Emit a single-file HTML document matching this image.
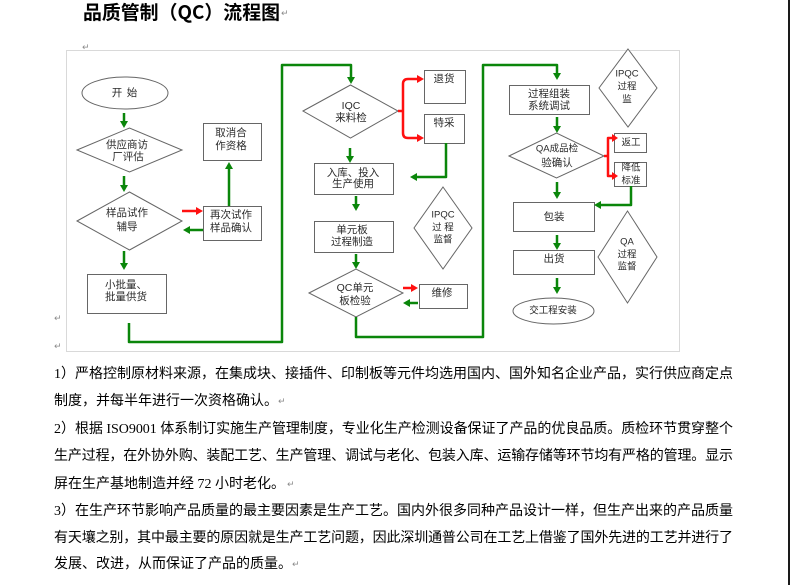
<!DOCTYPE html>
<html><head><meta charset="utf-8">
<style>
html,body{margin:0;padding:0;background:#fff;}
body{width:792px;height:585px;overflow:hidden;position:relative;}
svg{position:absolute;left:0;top:0;}
.t{font-family:"Liberation Sans","Noto Sans CJK SC",sans-serif;font-size:10.5px;fill:#2a2a2a;text-anchor:middle;dominant-baseline:central;}
.s{font-size:9.5px;}
.p{font-family:"Liberation Serif","Noto Sans CJK SC",sans-serif;font-size:14px;fill:#000;}
.m{font-family:"DejaVu Sans",sans-serif;font-size:9px;fill:#8a8a8a;}
</style></head>
<body>
<svg width="792" height="585" viewBox="0 0 792 585" xmlns="http://www.w3.org/2000/svg">
<!-- title -->
<text x="83" y="19" textLength="197" lengthAdjust="spacingAndGlyphs" style="font-family:'Noto Sans CJK SC',sans-serif;font-size:19px;font-weight:bold;fill:#000;">品质管制（QC）流程图</text>
<text class="m" x="281" y="16">↵</text>
<text class="m" x="82" y="50">↵</text>
<text class="m" x="54" y="321">↵</text>
<text class="m" x="54" y="349">↵</text>

<!-- right page edge -->
<rect x="788" y="0" width="2" height="585" fill="#1a1a1a"/>

<!-- frame -->
<rect x="66.5" y="50.5" width="613" height="301" fill="none" stroke="#d9d9d9" stroke-width="1"/>

<!-- shapes -->
<g fill="#fff" stroke="#666" stroke-width="1">
<ellipse cx="125" cy="93" rx="43" ry="16"/>
<polygon points="77,150 129.5,128 182,150 129.5,172"/>
<polygon points="77,221 129.5,192 182,221 129.5,250"/>
<rect x="87.5" y="274.5" width="79" height="39"/>
<rect x="203.5" y="206.5" width="58" height="34"/>
<rect x="203.5" y="123.5" width="58" height="37"/>

<polygon points="303,111 350.5,85 398,111 350.5,138"/>
<rect x="424.5" y="70.5" width="41" height="33"/>
<rect x="424.5" y="114.5" width="40" height="29"/>
<rect x="314.5" y="163.5" width="79" height="31"/>
<rect x="314.5" y="221.5" width="79" height="31"/>
<polygon points="309,293 356,269 403,293 356,317"/>
<rect x="419.5" y="284.5" width="48" height="24"/>
<polygon points="443,187 472,228 443,269 414,228"/>

<rect x="509.5" y="85.5" width="80" height="29"/>
<polygon points="509,156 556.5,133 604,156 556.5,178"/>
<rect x="614.5" y="133.5" width="32" height="19"/>
<rect x="614.5" y="162.5" width="32" height="24"/>
<rect x="513.5" y="202.5" width="81" height="29"/>
<rect x="513.5" y="250.5" width="81" height="24"/>
<ellipse cx="553.5" cy="311" rx="40.5" ry="13"/>
<polygon points="627.5,211 657,257 627.5,303 598,257"/>
<polygon points="628,49 657,88 628,127 599,88"/>
</g>

<!-- green connectors -->
<g fill="none" stroke="#0a860a" stroke-width="2.5" stroke-linejoin="round" stroke-linecap="butt">
<path d="M124,113 V122"/>
<path d="M124,176 V186"/>
<path d="M124,251 V264"/>
<path d="M203,230 H189"/>
<path d="M229,206 V168"/>
<path d="M129,323 V342 H282 V65 H351 V78"/>
<path d="M350,148 V157"/>
<path d="M446,143 V177 H416"/>
<path d="M356,196 V205"/>
<path d="M356,254 V263"/>
<path d="M418,303 H409"/>
<path d="M356,317 V337 H483 V65 H557 V74"/>
<path d="M557,117 V127"/>
<path d="M631,186 V205 H600"/>
<path d="M557,182 V193"/>
<path d="M557,235 V244"/>
<path d="M557,278 V288"/>
</g>
<g fill="#0a860a">
<polygon points="120,121 128,121 124,128"/>
<polygon points="120,185 128,185 124,192"/>
<polygon points="120,263 128,263 124,270"/>
<polygon points="190,226 190,234 183,230"/>
<polygon points="225,169 233,169 229,162"/>
<polygon points="347,77 355,77 351,84"/>
<polygon points="346,156 354,156 350,163"/>
<polygon points="417,173 417,181 410,177"/>
<polygon points="352,204 360,204 356,211"/>
<polygon points="352,262 360,262 356,269"/>
<polygon points="410,299 410,307 403,303"/>
<polygon points="553,73 561,73 557,80"/>
<polygon points="553,126 561,126 557,133"/>
<polygon points="601,201 601,209 594,205"/>
<polygon points="553,192 561,192 557,199"/>
<polygon points="553,243 561,243 557,250"/>
<polygon points="553,287 561,287 557,294"/>
</g>

<!-- red connectors -->
<g fill="none" stroke="#ff1010" stroke-width="2.5" stroke-linejoin="round">
<path d="M182,211 H197"/>
<path d="M398,111 H403"/>
<path d="M418,79 H408 Q403,79 403,84 V133 Q403,138 408,138 H418"/>
<path d="M403,288 H412"/>
<path d="M604,156 H608"/>
<path d="M613,138 H608 V176 H613"/>
</g>
<g fill="#ff1010">
<polygon points="196,207 196,215 203,211"/>
<polygon points="417,75 417,83 424,79"/>
<polygon points="417,134 417,142 424,138"/>
<polygon points="411,284 411,292 418,288"/>
<polygon points="612,134 612,142 618,138"/>
<polygon points="612,172 612,180 618,176"/>
</g>

<!-- node labels -->
<text class="t" x="117" y="93">开</text><text class="t" x="132" y="93">始</text>
<text class="t" x="127" y="145">供应商访</text>
<text class="t" x="128" y="157">厂评估</text>
<text class="t" x="127" y="213">样品试作</text>
<text class="t" x="127" y="227">辅导</text>
<text class="t" x="105" y="285" style="text-anchor:start">小批量、</text>
<text class="t" x="105" y="297" style="text-anchor:start">批量供货</text>
<text class="t" x="231" y="215">再次试作</text>
<text class="t" x="231" y="228">样品确认</text>
<text class="t" x="231" y="133">取消合</text>
<text class="t" x="231" y="146">作资格</text>

<text class="t" x="351" y="106">IQC</text>
<text class="t" x="351" y="118">来料检</text>
<text class="t" x="444" y="79">退货</text>
<text class="t" x="444" y="123">特采</text>
<text class="t" x="353" y="173">入库、投入</text>
<text class="t" x="353" y="184">生产使用</text>
<text class="t" x="352" y="230">单元板</text>
<text class="t" x="352" y="242">过程制造</text>
<text class="t" x="355" y="288">QC单元</text>
<text class="t" x="355" y="301">板检验</text>
<text class="t" x="442" y="293">维修</text>
<text class="t s" x="443" y="215">IPQC</text>
<text class="t s" x="443" y="228">过 程</text>
<text class="t s" x="443" y="240">监督</text>

<text class="t" x="549" y="94">过程组装</text>
<text class="t" x="549" y="106">系统调试</text>
<text class="t s" x="557" y="149">QA成品检</text>
<text class="t" x="557" y="163">验确认</text>
<text class="t s" x="631" y="143">返工</text>
<text class="t s" x="631" y="168">降低</text>
<text class="t s" x="631" y="181">标准</text>
<text class="t" x="554" y="217">包装</text>
<text class="t" x="554" y="259">出货</text>
<text class="t s" x="553" y="311">交工程安装</text>
<text class="t s" x="627" y="242">QA</text>
<text class="t s" x="627" y="255">过程</text>
<text class="t s" x="627" y="267">监督</text>
<text class="t s" x="627" y="74">IPQC</text>
<text class="t s" x="627" y="87">过程</text>
<text class="t s" x="627" y="100">监</text>

<!-- paragraphs -->
<text class="p" x="54" y="378" textLength="679" lengthAdjust="spacing">1）严格控制原材料来源，在集成块、接插件、印制板等元件均选用国内、国外知名企业产品，实行供应商定点</text>
<text class="p" x="54" y="405">制度，并每半年进行一次资格确认。</text>
<text class="m" x="278" y="404">↵</text>
<text class="p" x="54" y="433" textLength="679" lengthAdjust="spacing">2）根据 ISO9001 体系制订实施生产管理制度，专业化生产检测设备保证了产品的优良品质。质检环节贯穿整个</text>
<text class="p" x="54" y="460" textLength="679" lengthAdjust="spacing">生产过程，在外协外购、装配工艺、生产管理、调试与老化、包装入库、运输存储等环节均有严格的管理。显示</text>
<text class="p" x="54" y="488">屏在生产基地制造并经 72 小时老化。</text>
<text class="m" x="287" y="487">↵</text>
<text class="p" x="54" y="515" textLength="679" lengthAdjust="spacing">3）在生产环节影响产品质量的最主要因素是生产工艺。国内外很多同种产品设计一样，但生产出来的产品质量</text>
<text class="p" x="54" y="542" textLength="679" lengthAdjust="spacing">有天壤之别，其中最主要的原因就是生产工艺问题，因此深圳通普公司在工艺上借鉴了国外先进的工艺并进行了</text>
<text class="p" x="54" y="568">发展、改进，从而保证了产品的质量。</text>
<text class="m" x="292" y="567">↵</text>
</svg>
</body></html>
